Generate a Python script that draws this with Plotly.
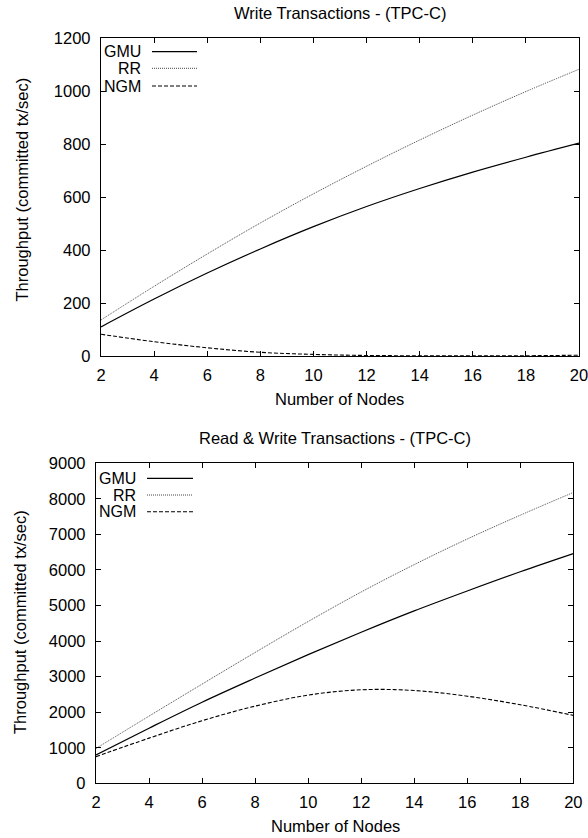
import plotly.graph_objects as go

# ---- data ----
nodes = [2, 4, 6, 8, 10, 12, 14, 16, 18, 20]

w_gmu = [110, 215, 313, 404, 488, 564, 632, 694, 750, 803]
w_rr = [136, 263, 385, 502, 612, 716, 815, 909, 998, 1082]
w_ngm = [82, 54, 31, 14, 6, 2, 1, 1, 1, 3]

rw_gmu = [800, 1550, 2280, 2960, 3620, 4250, 4850, 5410, 5950, 6460]
rw_rr = [980, 1890, 2790, 3680, 4550, 5380, 6150, 6870, 7540, 8180]
rw_ngm = [750, 1270, 1760, 2170, 2480, 2630, 2610, 2450, 2210, 1910]

series_names = ["GMU", "RR", "NGM"]
x_ticks = [2, 4, 6, 8, 10, 12, 14, 16, 18, 20]
top_title = "Write Transactions - (TPC-C)"
bot_title = "Read & Write Transactions - (TPC-C)"
x_label = "Number of Nodes"
y_label = "Throughput (committed tx/sec)"

W, H = 588, 838
FONT = "Liberation Sans, Arial, Helvetica, sans-serif"
FS = 16.5

styles = {
    "GMU": dict(color="black", width=1.2, dash="solid"),
    "RR": dict(color="#444444", width=1, dash="1px,1px"),
    "NGM": dict(color="black", width=1.1, dash="4px,2px"),
}

def px(x):
    return x / W

def py(y):
    return 1 - y / H

fig = go.Figure()

top_data = {"GMU": w_gmu, "RR": w_rr, "NGM": w_ngm}
bot_data = {"GMU": rw_gmu, "RR": rw_rr, "NGM": rw_ngm}

for name in series_names:
    fig.add_trace(go.Scatter(x=nodes, y=top_data[name], mode="lines", name=name,
                             line=dict(shape="spline", **styles[name]),
                             xaxis="x", yaxis="y", showlegend=False))
for name in series_names:
    fig.add_trace(go.Scatter(x=nodes, y=bot_data[name], mode="lines", name=name,
                             line=dict(shape="spline", **styles[name]),
                             xaxis="x2", yaxis="y2", showlegend=False))

axis_common = dict(
    showline=True, linecolor="black", linewidth=1.3, mirror="ticks",
    ticks="inside", ticklen=5, tickwidth=1, tickcolor="black",
    showgrid=False, zeroline=False, automargin=False,
    ticklabeloverflow="allow",
    tickfont=dict(family=FONT, size=FS, color="black"),
)
x_common = dict(ticklabelstandoff=4, **axis_common)
y_common = dict(ticklabelstandoff=6, **axis_common)

# plot area pixel boxes
top_box = (101, 579, 38, 356)
bot_box = (96, 573.3, 463.3, 783.3)

fig.update_layout(
    width=W, height=H,
    margin=dict(l=0, r=0, t=0, b=0),
    paper_bgcolor="white", plot_bgcolor="white",
    showlegend=False,
    xaxis=dict(domain=[px(top_box[0]), px(top_box[1])], range=[2, 20],
               tickvals=x_ticks, anchor="y", **x_common),
    yaxis=dict(domain=[py(top_box[3]), py(top_box[2])], range=[0, 1200],
               dtick=200, anchor="x", **y_common),
    xaxis2=dict(domain=[px(bot_box[0]), px(bot_box[1])], range=[2, 20],
                tickvals=x_ticks, anchor="y2", **x_common),
    yaxis2=dict(domain=[py(bot_box[3]), py(bot_box[2])], range=[0, 9000],
                dtick=1000, anchor="x2", **y_common),
)

annotations = []
def text(x, y, s, xanchor="center", angle=0, size=FS):
    annotations.append(dict(x=px(x), y=py(y), xref="paper", yref="paper", text=s,
                            showarrow=False, xanchor=xanchor, yanchor="middle",
                            textangle=angle, borderpad=0,
                            font=dict(family=FONT, size=size, color="black")))

text(340, 13, top_title)
text(339, 399, x_label)
text(21.5, 190, y_label, angle=-90)
text(335, 438, bot_title)
text(335, 826, x_label)
text(20, 622, y_label, angle=-90)

shapes = []
def legend(x_text_right, x0, x1, ys):
    for name, y in zip(series_names, ys):
        text(x_text_right, y, name, xanchor="right", size=16)
        st = styles[name]
        shapes.append(dict(type="line", xref="paper", yref="paper",
                           x0=px(x0), x1=px(x1), y0=py(y), y1=py(y),
                           line=dict(color=st["color"], width=st["width"], dash=st["dash"])))

legend(142, 152, 197, [51.7, 68.3, 86])
legend(137, 147, 193, [478.3, 495, 511.7])

fig.update_layout(annotations=annotations, shapes=shapes)

fig.write_html("out.html", config={"displayModeBar": False},
               post_script="document.body.style.margin='0';document.body.style.overflow='hidden';")
